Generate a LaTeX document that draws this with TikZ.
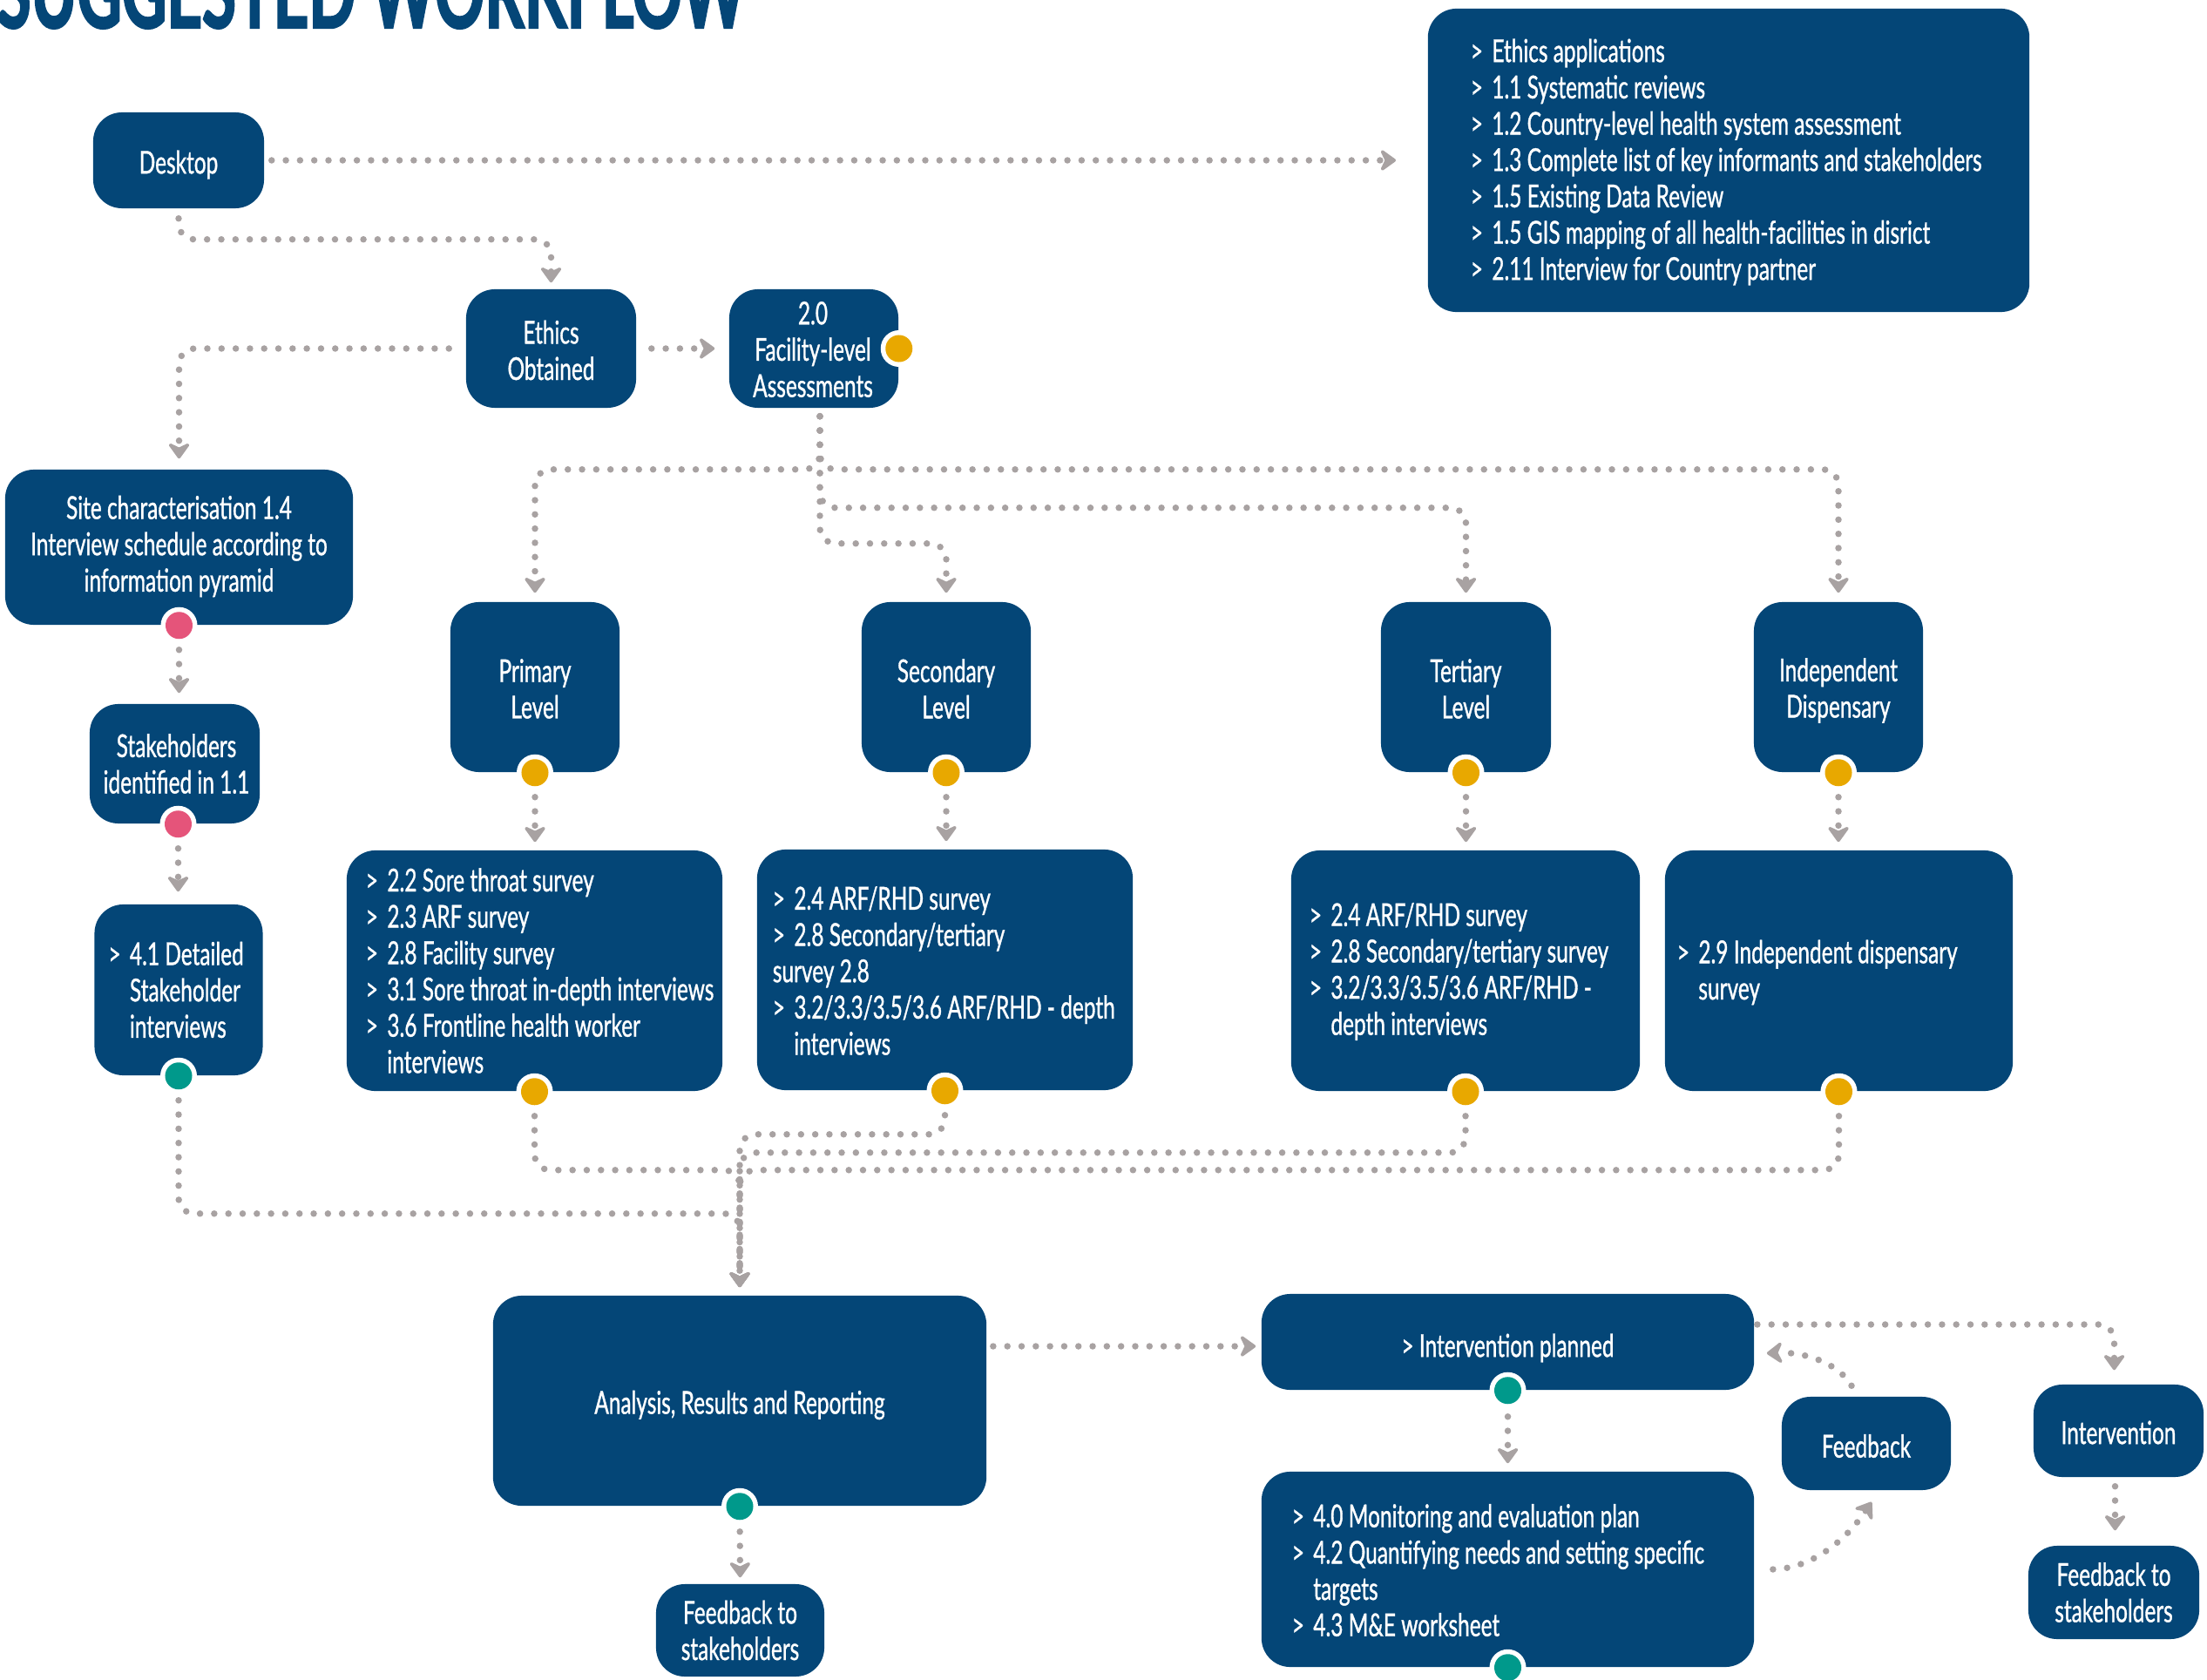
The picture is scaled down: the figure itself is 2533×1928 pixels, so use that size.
\documentclass[tikz,border=0pt]{standalone}
\usepackage{fontspec}
\setmainfont{Lato}[FakeStretch=0.675, FakeBold=0.9]
\newfontfamily\headfont{Lato}[FakeStretch=0.72, FakeBold=2]
\usetikzlibrary{arrows.meta,calc}

\definecolor{navy}{HTML}{044677}
\definecolor{dotgrey}{HTML}{A8A2A2}
\definecolor{amber}{HTML}{E8A800}
\definecolor{rose}{HTML}{E5547A}
\definecolor{tealdot}{HTML}{00998B}

% list marker with a fixed width, and the matching hanging indent
\newcommand{\itm}{\makebox[0.245cm][l]{>}}
\newcommand{\ind}{\hspace*{0.245cm}}

\begin{document}
\begin{tikzpicture}[x=0.01cm, y=-0.01cm,
  box/.style={fill=navy, rounded corners=0.33cm, inner sep=0, draw=none},
  txt/.style={text=white, font=\fontsize{10.3pt}{11.85pt}\selectfont, inner sep=0, align=center},
  txtl/.style={txt, align=left, anchor=west},
  conn/.style={draw=dotgrey, line width=0.075cm, line cap=round,
    dash pattern=on 0pt off 0.163cm, rounded corners=0.18cm,
    -{Stealth[round, length=0.21cm, width=0.3cm, inset=0.07cm]}},
]
\useasboundingbox (0,0) rectangle (2533,1928);
\clip (0,0) rectangle (2533,1928);

% heading
\node[anchor=base west, inner sep=0, text=navy] (title) at (-4,32)
  {\resizebox{8.59cm}{0.85cm}{\headfont\bfseries SUGGESTED WORKFLOW}};

% ---- boxes
\node[box, minimum width=1.96cm, minimum height=1.10cm] (desktop) at (205,184) {};
\node[box, minimum width=6.90cm, minimum height=3.48cm] (topbox) at (1984,184) {};
\node[box, minimum width=1.95cm, minimum height=1.36cm] (ethics) at (632.5,400) {};
\node[box, minimum width=1.94cm, minimum height=1.36cm] (facility) at (934,400) {};
\node[box, minimum width=3.99cm, minimum height=1.78cm] (site) at (205.5,628) {};
\node[box, minimum width=1.95cm, minimum height=1.37cm] (stake) at (200.5,876.5) {};
\node[box, minimum width=1.93cm, minimum height=1.96cm] (box41) at (205,1136) {};

\node[box, minimum width=1.94cm, minimum height=1.95cm] (primary) at (614,788.5) {};
\node[box, minimum width=1.94cm, minimum height=1.95cm] (secondary) at (1086,788.5) {};
\node[box, minimum width=1.95cm, minimum height=1.95cm] (tertiary) at (1682.5,788.5) {};
\node[box, minimum width=1.94cm, minimum height=1.95cm] (independent) at (2110,788.5) {};

\node[box, minimum width=4.31cm, minimum height=2.76cm] (pdet) at (613.5,1114) {};
\node[box, minimum width=4.31cm, minimum height=2.76cm] (sdet) at (1084.5,1113) {};
\node[box, minimum width=4.00cm, minimum height=2.76cm] (tdet) at (1682,1114) {};
\node[box, minimum width=3.99cm, minimum height=2.76cm] (idet) at (2110.5,1114) {};

\node[box, minimum width=5.66cm, minimum height=2.41cm] (analysis) at (849,1607.5) {};
\node[box, minimum width=5.65cm, minimum height=1.10cm] (iplan) at (1730.5,1540) {};
\node[box, minimum width=5.65cm, minimum height=2.24cm] (mon) at (1730.5,1801) {};
\node[box, minimum width=1.93cm, minimum height=1.06cm] (fbl) at (849.5,1871) {};
\node[box, minimum width=1.94cm, minimum height=1.07cm] (feedback) at (2142,1656.5) {};
\node[box, minimum width=1.95cm, minimum height=1.06cm] (intervention) at (2431.5,1642) {};
\node[box, minimum width=1.96cm, minimum height=1.07cm] (fbr) at (2426,1827.5) {};

% ---- centred labels
\node[txt] (desktop-t) at ($(desktop)+(0,5)$) {Desktop};
\node[txt] (ethics-t) at ($(ethics)+(0,2)$) {Ethics\\Obtained};
\node[txt] (facility-t) at ($(facility)+(-1,1)$) {2.0\\Facility-level\\Assessments};
\node[txt] (site-t) at ($(site)+(0,-1)$) {Site characterisation 1.4\\Interview schedule according to\\information pyramid};
\node[txt] (stake-t) at ($(stake)+(2,0)$) {Stakeholders\\identified in 1.1};
\node[txt] (primary-t) at ($(primary)+(0,2)$) {Primary\\Level};
\node[txt] (secondary-t) at ($(secondary)+(0,2)$) {Secondary\\Level};
\node[txt] (tertiary-t) at ($(tertiary)+(0,2)$) {Tertiary\\Level};
\node[txt] (independent-t) at ($(independent)+(0,4)$) {Independent\\Dispensary};
\node[txt] (analysis-t) at ($(analysis)+(0,5)$) {Analysis, Results and Reporting};
\node[txt] (iplan-t) at ($(iplan)+(0,7)$) {> Intervention planned};
\node[txt] (fbl-t) at (fbl) {Feedback to\\stakeholders};
\node[txt] (feedback-t) at ($(feedback)+(0,3)$) {Feedback};
\node[txt] (intervention-t) at ($(intervention)+(0,2)$) {Intervention};
\node[txt] (fbr-t) at (fbr) {Feedback to\\stakeholders};

% ---- left-aligned lists
\node[txtl] (topbox-t) at ($(topbox.west)+(49,2)$) {\itm Ethics applications\\\itm 1.1 Systematic reviews\\\itm 1.2 Country-level health system assessment\\\itm 1.3 Complete list of key informants and stakeholders\\\itm 1.5 Existing Data Review\\\itm 1.5 GIS mapping of all health-facilities in disrict\\\itm 2.11 Interview for Country partner};
\node[txtl] (box41-t) at ($(box41.west)+(16,0)$) {\itm 4.1 Detailed\\\ind Stakeholder\\\ind interviews};
\node[txtl] (pdet-t) at ($(pdet.west)+(22,0)$) {\itm 2.2 Sore throat survey\\\itm 2.3 ARF survey\\\itm 2.8 Facility survey\\\itm 3.1 Sore throat in-depth interviews\\\itm 3.6 Frontline health worker\\\ind interviews};
\node[txtl] (sdet-t) at ($(sdet.west)+(18,1)$) {\itm 2.4 ARF/RHD survey\\\itm 2.8 Secondary/tertiary\\survey 2.8\\\itm 3.2/3.3/3.5/3.6 ARF/RHD - depth\\\ind interviews};
\node[txtl] (tdet-t) at ($(tdet.west)+(21,1)$) {\itm 2.4 ARF/RHD survey\\\itm 2.8 Secondary/tertiary survey\\\itm 3.2/3.3/3.5/3.6 ARF/RHD -\\\ind depth interviews};
\node[txtl] (idet-t) at ($(idet.west)+(14,2)$) {\itm 2.9 Independent dispensary\\\ind survey};
\node[txtl] (mon-t) at ($(mon.west)+(35,1)$) {\itm 4.0 Monitoring and evaluation plan\\\itm 4.2 Quantifying needs and setting specific\\\ind targets\\\itm 4.3 M\&E worksheet};

% ---- connectors
\draw[conn, shorten <=0.08cm, shorten >=0.36cm] (desktop.east) -- (topbox.west);
\draw[conn, shorten <=0.11cm, shorten >=0.07cm] (desktop.south) -- ++(0,35) -| (ethics.north);
\draw[conn, shorten <=0.19cm, shorten >=0.12cm] (ethics.west) -| (site.north);
\draw[conn, shorten <=0.17cm, shorten >=0.16cm] (ethics.east) -- (facility.west);

\draw[conn, shorten <=0.09cm, shorten >=0.10cm] ($(facility.south)+(7,0)$) -- ++(0,70) -| (primary.north);
\draw[conn, shorten <=0.09cm, shorten >=0.10cm] ($(facility.south)+(7,0)$) -- ++(0,70) -| (independent.north);
\draw[conn, shorten <=0.09cm, shorten >=0.10cm] ($(facility.south)+(7,0)$) -- ++(0,114) -| (tertiary.north);
\draw[conn, shorten <=0.09cm, shorten >=0.10cm] ($(facility.south)+(7,0)$) -- ++(0,155) -| (secondary.north);

\foreach \a/\b in {primary/pdet, secondary/sdet, tertiary/tdet, independent/idet}
  \draw[conn, shorten <=0.28cm, shorten >=0.09cm] (\a.south) -- (\a.south |- \b.north);

\draw[conn, shorten <=0.28cm, shorten >=0.12cm] (site.south) -- (site.south |- stake.north);
\draw[conn, shorten <=0.28cm, shorten >=0.14cm] ($(stake.south)+(4,0)$) -- ($(stake.south |- box41.north)+(4,0)$);

\draw[conn, shorten <=0.28cm, shorten >=0.09cm] (box41.south) -- ++(0,158) -| (analysis.north);
\draw[conn, shorten <=0.28cm, shorten >=0.09cm] (pdet.south) -- ++(0,90) -| (analysis.north);
\draw[conn, shorten <=0.28cm, shorten >=0.09cm] (sdet.south) -- ++(0,50) -| (analysis.north);
\draw[conn, shorten <=0.28cm, shorten >=0.09cm] (tdet.south) -- ++(0,70) -| (analysis.north);
\draw[conn, shorten <=0.28cm, shorten >=0.09cm] (idet.south) -- ++(0,90) -| (analysis.north);

\draw[conn, shorten <=0.07cm, shorten >=0.06cm] ($(analysis.east |- iplan.west)+(0,5)$) -- ($(iplan.west)+(0,5)$);
\draw[conn, shorten <=0.30cm, shorten >=0.09cm] (iplan.south) -- (mon.north);
\draw[conn, shorten <=0.29cm, shorten >=0.07cm] (analysis.south) -- (fbl.north);
\draw[conn, shorten <=0.03cm, shorten >=0.16cm] ($(iplan.east)+(0,-20)$) -| ($(intervention.north)+(-5,0)$);
\draw[conn, shorten <=0.10cm, shorten >=0.17cm] ($(intervention.south)+(-4,0)$) -- ($(intervention.south |- fbr.north)+(-4,0)$);

\draw[conn] ($(feedback.north)+(-17,-12)$) .. controls ($(feedback.north)+(-30,-35)$) and ($(iplan.east)+(62,11)$) .. ($(iplan.east)+(14,13)$);
\draw[conn] ($(mon.east)+(21,0)$) .. controls ($(mon.east)+(67,-1)$) and ($(feedback.south)+(-22,55)$) .. ($(feedback.south)+(6,13)$);

% ---- status dots on the boxes
\foreach \p/\c in {facility.east/amber, site.south/rose, box41.south/tealdot,
    primary.south/amber, secondary.south/amber, tertiary.south/amber, independent.south/amber,
    pdet.south/amber, sdet.south/amber, tdet.south/amber, idet.south/amber,
    analysis.south/tealdot, iplan.south/tealdot, mon.south/tealdot}{
  \fill[white] (\p) circle (0.21cm);
  \fill[\c] (\p) circle (0.155cm);
}
\fill[white] ($(stake.south)+(4,0)$) circle (0.21cm);
\fill[rose] ($(stake.south)+(4,0)$) circle (0.155cm);
\end{tikzpicture}
\end{document}
